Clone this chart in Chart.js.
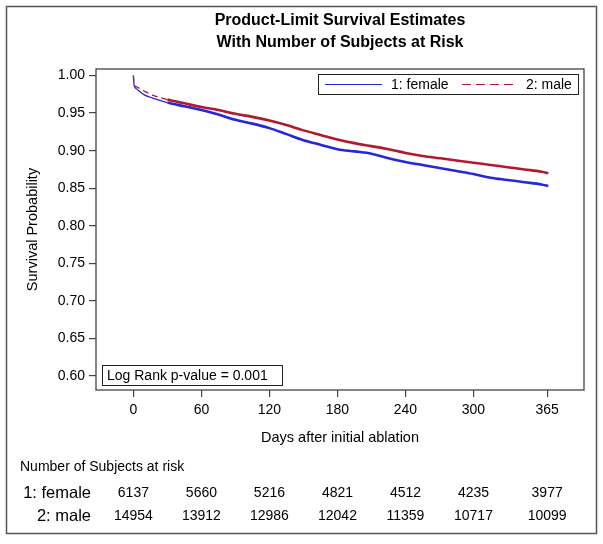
<!DOCTYPE html>
<html>
<head>
<meta charset="utf-8">
<script src="https://cdn.jsdelivr.net/npm/chart.js@4"></script>
<style>
  html, body { margin: 0; padding: 0; background: #fff; }
  canvas { display: block; }
</style>
</head>
<body>
<canvas id="km" width="603" height="544"></canvas>
<script>
// survival estimates
const days = [0, 0.5, 3, 6, 10, 17, 30, 45, 60, 75, 90, 105, 120, 135, 150, 165, 180,
  195, 210, 225, 240, 255, 270, 285, 300, 315, 330, 345, 360, 366];
const femaleSurv = [1.000, 0.988, 0.982, 0.978, 0.974, 0.970, 0.964, 0.959, 0.954, 0.948,
  0.941, 0.936, 0.930, 0.922, 0.914, 0.908, 0.902, 0.899, 0.896, 0.890, 0.885, 0.881,
  0.877, 0.873, 0.869, 0.864, 0.861, 0.858, 0.855, 0.853];
const maleSurv = [1.000, 0.988, 0.985, 0.982, 0.979, 0.974, 0.968, 0.963, 0.958, 0.954,
  0.949, 0.945, 0.940, 0.934, 0.927, 0.921, 0.915, 0.910, 0.906, 0.902, 0.897, 0.893,
  0.890, 0.887, 0.884, 0.881, 0.878, 0.875, 0.872, 0.870];

const xTicks = [0, 60, 120, 180, 240, 300, 365];
const yTicks = [0.60, 0.65, 0.70, 0.75, 0.80, 0.85, 0.90, 0.95, 1.00];
const groupLabels = ['1: female', '2: male'];
const femaleRisk = [6137, 5660, 5216, 4821, 4512, 4235, 3977];
const maleRisk = [14954, 13912, 12986, 12042, 11359, 10717, 10099];

const FONT = 'Liberation Sans, Arial, sans-serif';
const BLUE = '#2626dc';
const RED = '#b3182c';

const toPoints = (ys) => days.map((d, i) => ({ x: d, y: ys[i] }));

const extras = {
  id: 'extras',
  afterDraw(chart) {
    const ctx = chart.ctx;
    const a = chart.chartArea;
    const xs = chart.scales.x;
    ctx.save();

    // outer border
    ctx.strokeStyle = '#555';
    ctx.lineWidth = 1.5;
    ctx.strokeRect(6.5, 6.5, 590, 527);

    // plot frame
    ctx.strokeStyle = '#444';
    ctx.lineWidth = 1.3;
    ctx.strokeRect(a.left, a.top, a.right - a.left, a.bottom - a.top);

    // title
    ctx.fillStyle = '#000';
    ctx.textAlign = 'center';
    ctx.textBaseline = 'middle';
    ctx.font = 'bold 16px ' + FONT;
    const cx = (a.left + a.right) / 2;
    ctx.fillText('Product-Limit Survival Estimates', cx, 21);
    ctx.fillText('With Number of Subjects at Risk', cx, 43);

    // axis titles
    ctx.font = '14.5px ' + FONT;
    ctx.fillText('Days after initial ablation', cx, 438);
    ctx.save();
    ctx.translate(33, (a.top + a.bottom) / 2);
    ctx.rotate(-Math.PI / 2);
    ctx.fillText('Survival Probability', 0, 0);
    ctx.restore();

    // legend
    ctx.strokeStyle = '#222';
    ctx.lineWidth = 1;
    ctx.strokeRect(318.5, 74.5, 260, 20);
    ctx.font = '14px ' + FONT;
    ctx.textAlign = 'left';
    ctx.lineWidth = 1.2;
    ctx.strokeStyle = BLUE;
    ctx.beginPath(); ctx.moveTo(325, 84.5); ctx.lineTo(382, 84.5); ctx.stroke();
    ctx.fillText(groupLabels[0], 391, 85);
    ctx.strokeStyle = RED;
    ctx.setLineDash([9, 5]);
    ctx.beginPath(); ctx.moveTo(462, 84.5); ctx.lineTo(514, 84.5); ctx.stroke();
    ctx.setLineDash([]);
    ctx.fillText(groupLabels[1], 526, 85);

    // log rank inset
    ctx.strokeStyle = '#222';
    ctx.lineWidth = 1;
    ctx.strokeRect(102.5, 365.5, 180, 20);
    ctx.fillText('Log Rank p-value = 0.001', 107, 376);

    // subjects at risk table
    ctx.font = '14px ' + FONT;
    ctx.fillText('Number of Subjects at risk', 20, 467);
    ctx.font = '16.5px ' + FONT;
    ctx.textAlign = 'right';
    ctx.fillText(groupLabels[0], 91, 493);
    ctx.fillText(groupLabels[1], 91, 516);
    ctx.font = '14px ' + FONT;
    ctx.textAlign = 'center';
    xTicks.forEach((d, i) => {
      const px = xs.getPixelForValue(d);
      ctx.fillText(String(femaleRisk[i]), px, 493);
      ctx.fillText(String(maleRisk[i]), px, 516);
    });
    ctx.restore();
  }
};

new Chart(document.getElementById('km'), {
  type: 'line',
  data: {
    datasets: [
      {
        label: groupLabels[0],
        data: toPoints(femaleSurv),
        borderColor: BLUE,
        borderWidth: 2.6,
        order: 2,
        segment: {
          borderWidth: c => (c.p0.parsed.x < 28 ? 1.3 : 2.6)
        }
      },
      {
        label: groupLabels[1],
        data: toPoints(maleSurv),
        borderColor: RED,
        borderWidth: 2.6,
        order: 1,
        segment: {
          borderWidth: c => (c.p0.parsed.x < 28 ? 1.3 : 2.6),
          borderDash: c => (c.p0.parsed.x < 28 ? [6, 4] : [])
        }
      }
    ]
  },
  options: {
    responsive: false,
    animation: false,
    layout: { padding: { top: 69, right: 19, left: 0, bottom: 0 } },
    elements: { point: { radius: 0 }, line: { cubicInterpolationMode: 'monotone' } },
    plugins: { legend: { display: false }, tooltip: { enabled: false } },
    scales: {
      x: {
        type: 'linear',
        min: -33,
        max: 397.5,
        afterBuildTicks: s => { s.ticks = xTicks.map(v => ({ value: v })); },
        afterFit: s => { s.height = 154; },
        border: { display: false },
        grid: { drawOnChartArea: false, tickLength: 7, color: '#444', lineWidth: 1.2 },
        ticks: { color: '#000', font: { family: FONT, size: 14 }, padding: 5, maxRotation: 0, autoSkip: false }
      },
      y: {
        min: 0.5814,
        max: 1.0087,
        afterBuildTicks: s => { s.ticks = yTicks.map(v => ({ value: v })); },
        afterFit: s => { s.width = 96; },
        border: { display: false },
        grid: { drawOnChartArea: false, tickLength: 7, color: '#444', lineWidth: 1.2 },
        ticks: { color: '#000', font: { family: FONT, size: 14 }, padding: 4, callback: v => v.toFixed(2) }
      }
    }
  },
  plugins: [extras]
});
</script>
</body>
</html>
